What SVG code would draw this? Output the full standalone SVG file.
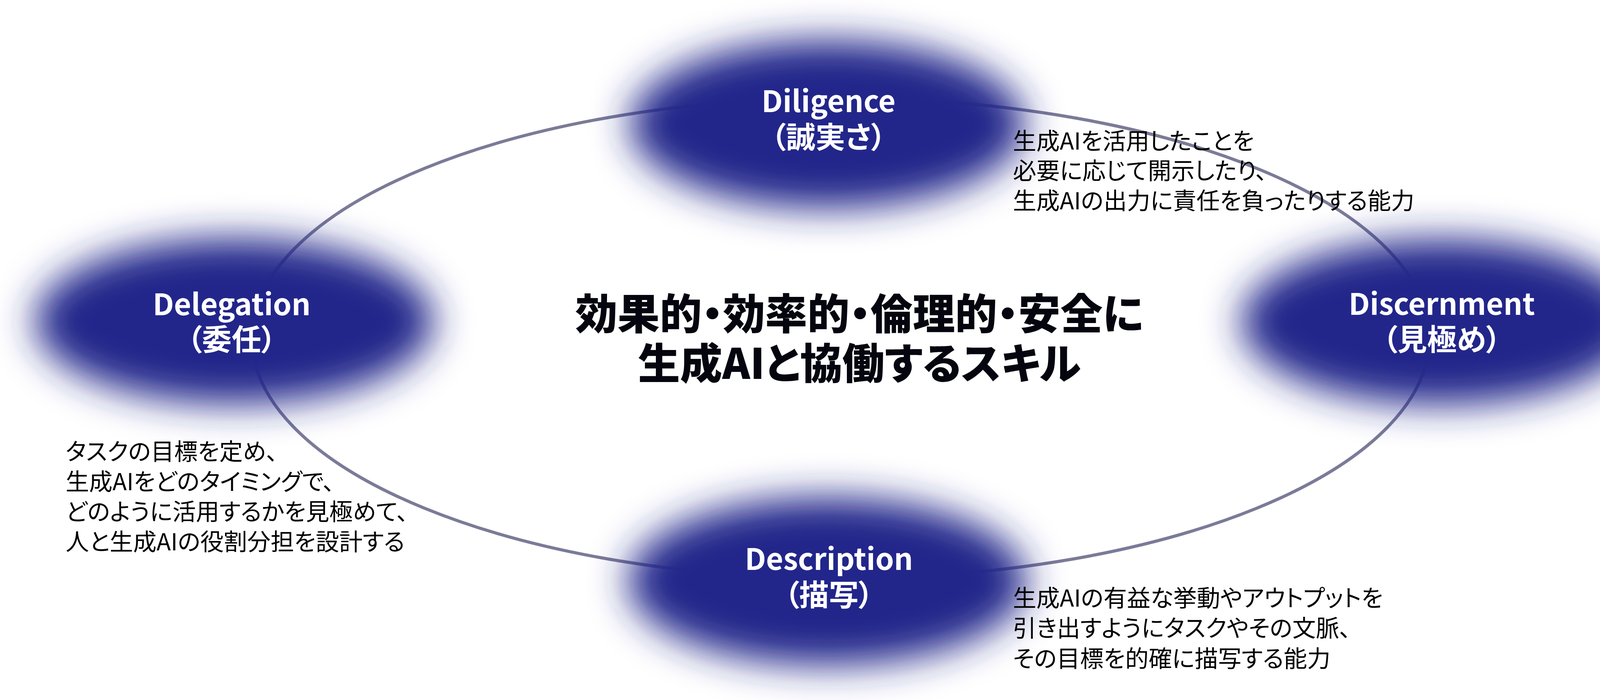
<svg xmlns="http://www.w3.org/2000/svg" width="4285" height="1792" viewBox="0 0 4285 1792">
<style>
.blob{fill:#22278a;filter:url(#soft);}
.lbl{font-family:"Noto Sans CJK JP","Noto Sans",sans-serif;font-weight:700;font-size:76px;fill:#ffffff;text-anchor:middle;font-feature-settings:"palt";}
.desc{font-family:"Noto Sans CJK JP","Noto Sans",sans-serif;font-weight:400;font-size:60px;fill:#000000;font-feature-settings:"palt";}
.title{font-family:"Noto Sans CJK JP","Noto Sans",sans-serif;font-weight:900;font-size:108px;fill:#05050f;text-anchor:middle;font-feature-settings:"palt";}
.link{fill:none;stroke:#7b7b98;stroke-width:8;}
</style>
<defs>
<filter id="soft" x="-40%" y="-90%" width="180%" height="280%">
<feGaussianBlur stdDeviation="48"/>
</filter>
</defs>
<rect x="0" y="0" width="4285" height="1792" fill="#ffffff"/>
<g id="connectors">
<ellipse class="link" cx="2152" cy="866" rx="1507" ry="615"/>
</g>
<g id="node-diligence">
<ellipse class="blob" cx="2118" cy="318" rx="505" ry="215"/>
<text class="lbl" x="2121" y="287">Diligence</text>
<text class="lbl" x="2121" y="379">（誠実さ）</text>
</g>
<g id="node-delegation">
<ellipse class="blob" cx="600" cy="822" rx="510" ry="212"/>
<text class="lbl" x="593" y="807">Delegation</text>
<text class="lbl" x="593" y="897">（委任）</text>
</g>
<g id="node-discernment">
<ellipse class="blob" cx="3688" cy="824" rx="510" ry="212"/>
<text class="lbl" x="3691" y="806">Discernment</text>
<text class="lbl" x="3691" y="897">（見極め）</text>
</g>
<g id="node-description">
<ellipse class="blob" cx="2118" cy="1488" rx="510" ry="215"/>
<text class="lbl" x="2122" y="1459">Description</text>
<text class="lbl" x="2122" y="1551">（描写）</text>
</g>
<g id="title">
<text class="title" x="2200" y="843">効果的・効率的・倫理的・安全に</text>
<text class="title" x="2200" y="970">生成AIと協働するスキル</text>
</g>
<g id="desc-diligence">
<text class="desc" x="2593" y="383">生成AIを活用したことを</text>
<text class="desc" x="2593" y="459">必要に応じて開示したり、</text>
<text class="desc" x="2593" y="536">生成AIの出力に責任を負ったりする能力</text>
</g>
<g id="desc-delegation">
<text class="desc" x="168" y="1178">タスクの目標を定め、</text>
<text class="desc" x="168" y="1255">生成AIをどのタイミングで、</text>
<text class="desc" x="168" y="1332">どのように活用するかを見極めて、</text>
<text class="desc" x="168" y="1409">人と生成AIの役割分担を設計する</text>
</g>
<g id="desc-description">
<text class="desc" x="2593" y="1553">生成AIの有益な挙動やアウトプットを</text>
<text class="desc" x="2593" y="1630">引き出すようにタスクやその文脈、</text>
<text class="desc" x="2593" y="1708">その目標を的確に描写する能力</text>
</g>
</svg>
